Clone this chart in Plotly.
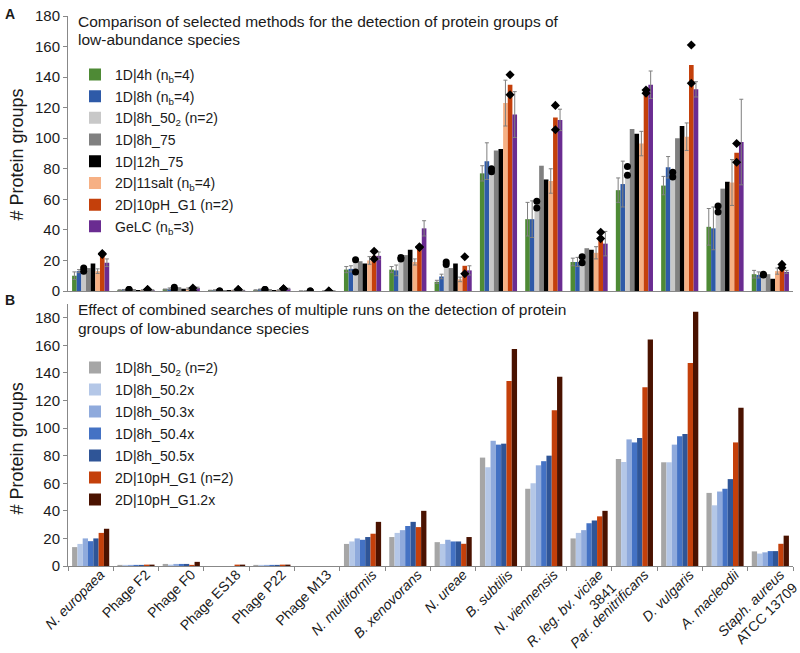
import plotly.graph_objects as go

categories = ["N. europaea", "Phage F2", "Phage F0", "Phage ES18", "Phage P22", "Phage M13",
              "N. multiformis", "B. xenovorans", "N. ureae", "B. subtilis", "N. viennensis",
              "R. leg. bv. viciae 3841", "Par. denitrificans", "D. vulgaris", "A. macleodii",
              "Staph. aureus ATCC 13709"]
tick_labels = ["<i>N. europaea</i>", "Phage F2", "Phage F0", "Phage ES18", "Phage P22", "Phage M13",
               "<i>N. multiformis</i>", "<i>B. xenovorans</i>", "<i>N. ureae</i>", "<i>B. subtilis</i>",
               "<i>N. viennensis</i>", "<i>R. leg. bv. viciae</i><br>3841", "<i>Par. denitrificans</i>",
               "<i>D. vulgaris</i>", "<i>A. macleodii</i>", "<i>Staph. aureus</i><br>ATCC 13709"]

# ---- Panel A ----
a_names = ["1D|4h (n<sub>b</sub>=4)", "1D|8h (n<sub>b</sub>=4)", "1D|8h_50<sub>2</sub> (n=2)", "1D|8h_75",
           "1D|12h_75", "2D|11salt (n<sub>b</sub>=4)", "2D|10pH_G1 (n=2)", "GeLC (n<sub>b</sub>=3)"]
a_colors = ["#4E8A35", "#2E5AA8", "#C8C8C8", "#808080", "#000000", "#F6B084", "#C4400B", "#6A2C91"]

a_4h = [10, 0.5, 1, 0.3, 0.5, 0, 14, 14, 6, 77, 47, 19, 66, 69, 42, 11]
a_4h_err = [2.5, 0.3, 0.3, 0.2, 0.3, 0, 2, 2, 1, 5, 11, 2.5, 8, 6, 12, 2.5]
a_8h = [13, 0.7, 1.5, 0.5, 1, 0, 14.5, 13.5, 9.5, 85, 47, 19, 70, 81, 41, 10.5]
a_8h_err = [1, 0.3, 0.5, 0.3, 0.3, 0, 2, 3.5, 1.5, 12, 12, 3, 15, 7, 14, 2]
a_8h50 = [14, 1, 2, 0.3, 1, 0, 19, 22, 18, 79, 57, 20.5, 78, 76, 54, 11]
a_8h50_rep1 = [15, 1, 2.5, 0, 1, 0, 20.5, 22, 19, 80, 58.7, 22.4, 81.5, 77.8, 55.7, 11]
a_8h50_rep2 = [13, 1, 1, 0, 1, 0, 12.4, 21, 17.4, 78, 54.3, 18.5, 75.7, 74.6, 51.7, 10.5]
a_8h75 = [15, 1, 2.5, 0.5, 1, 0, 19.5, 23.5, 15, 92, 82, 28, 106, 100, 67, 11]
a_12h75 = [18, 0.5, 1.5, 0.3, 0.5, 0, 18, 27, 18, 93, 73, 27, 103, 108, 71.5, 8]
a_11salt = [13, 0.5, 1.5, 0.3, 0.5, 0, 20, 19, 7.6, 123, 72, 25, 96.5, 101, 71, 13]
a_11salt_err = [1.5, 0.3, 0.5, 0.2, 0.3, 0, 2.5, 2, 1.5, 15, 8, 4, 8, 9, 15, 2]
a_10pH = [24, 1, 1, 1, 1.5, 0, 23, 28.5, 16.5, 135, 113.5, 35, 130, 148, 90.5, 16]
a_10pH_rep1 = [24.5, 1, 2, 1, 1.5, 0, 26, 29, 22.4, 141.5, 121.5, 38.5, 131.5, 161, 96.5, 17.4]
a_10pH_rep2 = [24, 1, 0, 1, 1.5, 0, 21, 28.5, 11.3, 128.5, 105.5, 34.3, 129.5, 136, 84.3, 15.2]
a_gelc = [18.5, 0.5, 2, 0.3, 1.5, 0, 23, 41, 13.5, 115.5, 112, 31, 135, 132, 97.5, 12.5]
a_gelc_err = [2.5, 0.3, 0.5, 0.2, 0.3, 0, 2.5, 5, 3, 15, 7, 8, 9, 5, 28, 1]

# ---- Panel B ----
b_names = ["1D|8h_50<sub>2</sub> (n=2)", "1D|8h_50.2x", "1D|8h_50.3x", "1D|8h_50.4x", "1D|8h_50.5x",
           "2D|10pH_G1 (n=2)", "2D|10pH_G1.2x"]
b_colors = ["#A6A6A6", "#B4C7E7", "#8FAADC", "#4472C4", "#2F5597", "#C4400B", "#4A1200"]
b_50_2 = [13.7, 0.8, 1.5, 0, 0.8, 0, 16, 21, 17.3, 78.6, 56, 20, 77.6, 75.2, 53, 10.6]
b_50_2x = [16, 0.8, 1, 0, 0.8, 0, 17.8, 24, 16, 71.6, 60, 24, 75.4, 75.2, 44, 9]
b_50_3x = [20, 0.8, 1.5, 0, 0.8, 0, 20, 26, 19, 90.8, 73, 26, 91.8, 88, 54, 9.9]
b_50_4x = [18, 0.8, 1.5, 0, 0.8, 0, 19, 29, 17.8, 88, 76, 31, 89.6, 94, 56, 10.8]
b_50_5x = [20, 0.8, 1.5, 0, 0.8, 0, 21, 32, 17.8, 88.7, 80, 33, 92.8, 95.7, 63, 10.8]
b_10pH = [24, 1, 0.8, 1, 1, 0, 23.4, 28.2, 16.1, 134.2, 113, 36, 129.6, 147.2, 89.6, 16.1]
b_10pH_2x = [27, 1, 3, 1, 1, 0, 32, 40, 21, 157.3, 137.3, 40, 164.3, 184.3, 114.7, 22]

FONT = "Liberation Sans, Arial, sans-serif"
TXT = "#1a1a1a"
ERRC = "#7f7f7f"

a_series = [a_4h, a_8h, a_8h50, a_8h75, a_12h75, a_11salt, a_10pH, a_gelc]
a_errs = [a_4h_err, a_8h_err, None, None, None, a_11salt_err, None, a_gelc_err]
b_series = [b_50_2, b_50_2x, b_50_3x, b_50_4x, b_50_5x, b_10pH, b_10pH_2x]

fig = go.Figure()

for i, (nm, col, ys, er) in enumerate(zip(a_names, a_colors, a_series, a_errs)):
    kw = {}
    if er is not None:
        kw["error_y"] = dict(type="data", array=er, color=ERRC, thickness=1, width=2)
    fig.add_trace(go.Bar(x=categories, y=ys, name=nm, marker_color=col, marker_line_width=0,
                         offsetgroup=f"a{i}", legend="legend", legendgroup=f"a{i}",
                         xaxis="x", yaxis="y", **kw))

# replicate markers (aligned with bar groups)
rep_x = categories + categories
for i in range(8):
    if i == 2:
        ys = a_8h50_rep1 + a_8h50_rep2
        mk = dict(symbol="circle", size=7, color="black")
    elif i == 6:
        ys = a_10pH_rep1 + a_10pH_rep2
        mk = dict(symbol="diamond", size=7, color="black")
    else:
        ys = a_series[i] + a_series[i]
        mk = dict(symbol="circle", size=1, color="rgba(0,0,0,0)")
    fig.add_trace(go.Scatter(x=rep_x, y=ys, mode="markers", marker=mk, offsetgroup=f"a{i}",
                             showlegend=False, hoverinfo="skip", xaxis="x", yaxis="y"))

for i, (nm, col, ys) in enumerate(zip(b_names, b_colors, b_series)):
    fig.add_trace(go.Bar(x=categories, y=ys, name=nm, marker_color=col, marker_line_width=0,
                         offsetgroup=f"b{i}", legend="legend2", legendgroup=f"b{i}",
                         xaxis="x2", yaxis="y2"))

PL, PR, PT, PB = 68, 793, 14, 566          # plot area in page pixels
W, H = PR - PL, PB - PT
def px(X):
    return (X - PL) / W
def py(Y):
    return (PB - Y) / H

axis_common = dict(showline=True, linecolor="#888888", linewidth=1, showgrid=False, zeroline=False)

fig.update_layout(
    width=800, height=653,
    margin=dict(l=PL, r=800 - PR, t=PT, b=653 - PB),
    paper_bgcolor="white", plot_bgcolor="white",
    barmode="group", bargap=0.18, bargroupgap=0,
    scattermode="group",
    font=dict(family=FONT, color=TXT),
    xaxis=dict(domain=[0, 1], anchor="y", type="category", categoryorder="array",
               categoryarray=categories, showticklabels=False, ticks="", **axis_common),
    yaxis=dict(domain=[py(290), 1], anchor="x", range=[0, 180], dtick=20, ticks="outside",
               ticklen=4, tickcolor="#888888", tickfont=dict(family=FONT, size=15, color=TXT),
               **axis_common),
    xaxis2=dict(domain=[0, 1], anchor="y2", type="category", categoryorder="array",
                categoryarray=categories, tickvals=categories, ticktext=tick_labels,
                tickangle=-45, ticks="outside", tickson="boundaries", ticklen=4,
                tickcolor="#888888", automargin=False, ticklabelshift=10, ticklabelstandoff=-6,
                tickfont=dict(family=FONT, size=14, color=TXT), **axis_common),
    yaxis2=dict(domain=[0, py(303)], anchor="x2", range=[0, 190], tickvals=list(range(0, 181, 20)),
                ticks="outside", ticklen=4, tickcolor="#888888",
                tickfont=dict(family=FONT, size=15, color=TXT), **axis_common),
    legend=dict(x=px(75), y=py(57), xanchor="left", yanchor="top", bgcolor="rgba(0,0,0,0)",
                font=dict(family=FONT, size=14, color=TXT), tracegroupgap=0.5, traceorder="grouped"),
    legend2=dict(x=px(75), y=py(351), xanchor="left", yanchor="top", bgcolor="rgba(0,0,0,0)",
                 font=dict(family=FONT, size=14, color=TXT), tracegroupgap=0.8, traceorder="grouped"),
    showlegend=True,
)

ann = []
def add_text(text, X, Y, size, xanchor="left", angle=0, bold=False):
    ann.append(dict(text=(f"<b>{text}</b>" if bold else text), x=px(X), y=py(Y), xref="paper", yref="paper",
                    xanchor=xanchor, yanchor="middle", showarrow=False, textangle=angle,
                    font=dict(family=FONT, size=size, color=TXT)))

add_text("Comparison of selected methods for the detection of protein groups of", 76, 20, 15.5)
add_text("low-abundance species", 76, 38, 15.5)
add_text("Effect of combined searches of multiple runs on the detection of protein", 76, 309, 15.5)
add_text("groups of low-abundance species", 76, 328, 15.5)
add_text("# Protein groups", 17, 153, 18, xanchor="center", angle=-90)
add_text("# Protein groups", 17, 448, 18, xanchor="center", angle=-90)
add_text("A", 10, 12, 14, xanchor="center", bold=True)
add_text("B", 10, 299, 14, xanchor="center", bold=True)
fig.update_layout(annotations=ann)

fig.write_html("out.html", config={"displayModeBar": False},
               post_script="document.body.style.margin='0';document.body.style.padding='0';")
